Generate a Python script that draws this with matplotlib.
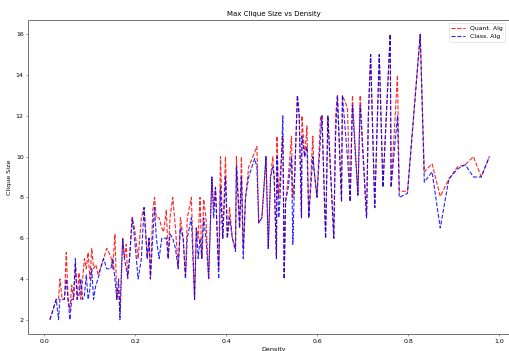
import matplotlib
matplotlib.use("Agg")
import matplotlib.pyplot as plt

# edge density of each test graph, and the max clique size found by each algorithm
density = [0.012, 0.026, 0.031, 0.034, 0.039, 0.044, 0.048, 0.052, 0.056, 0.060,
           0.064, 0.068, 0.072, 0.076, 0.080, 0.084, 0.088, 0.092, 0.096, 0.100,
           0.104, 0.108, 0.113, 0.118, 0.123, 0.130, 0.137, 0.146, 0.150, 0.155,
           0.159, 0.163, 0.166, 0.172, 0.176, 0.180, 0.183, 0.187, 0.193, 0.198,
           0.206, 0.213, 0.219, 0.226, 0.230, 0.233, 0.238, 0.242, 0.246, 0.252,
           0.258, 0.262, 0.268, 0.272, 0.276, 0.282, 0.288, 0.294, 0.299, 0.305,
           0.310, 0.314, 0.323, 0.330, 0.334, 0.338, 0.342, 0.346, 0.350, 0.355,
           0.361, 0.368, 0.372, 0.376, 0.383, 0.387, 0.392, 0.398, 0.402, 0.407,
           0.413, 0.420, 0.422, 0.429, 0.433, 0.437, 0.442, 0.449, 0.462, 0.467,
           0.471, 0.478, 0.487, 0.492, 0.497, 0.502, 0.505, 0.510, 0.511, 0.515,
           0.518, 0.524, 0.527, 0.530, 0.536, 0.543, 0.546, 0.550, 0.556, 0.560,
           0.565, 0.566, 0.572, 0.577, 0.581, 0.590, 0.592, 0.599, 0.607, 0.610,
           0.618, 0.623, 0.636, 0.640, 0.644, 0.653, 0.655, 0.666, 0.672, 0.677,
           0.689, 0.694, 0.708, 0.712, 0.717, 0.726, 0.736, 0.744, 0.760, 0.762,
           0.776, 0.780, 0.798, 0.826, 0.835, 0.852, 0.870, 0.889, 0.908, 0.925,
           0.943, 0.960, 0.978]

quant = [2.0, 3.0, 3.0, 4.0, 3.0, 3.0, 5.3, 3.0, 2.5, 3.7,
         3.0, 4.7, 3.0, 4.3, 3.0, 4.0, 5.0, 4.5, 5.3, 4.0,
         5.5, 4.5, 4.7, 4.2, 4.5, 5.0, 5.5, 5.1, 4.5, 6.2,
         3.0, 3.5, 2.5, 6.0, 5.0, 5.7, 4.0, 5.0, 7.0, 6.5,
         5.0, 7.0, 7.5, 5.0, 6.0, 4.0, 7.3, 8.0, 7.0, 7.0,
         6.5, 6.3, 7.4, 5.0, 7.0, 8.0, 6.5, 4.6, 7.0, 6.0,
         4.1, 7.0, 8.0, 3.0, 6.5, 6.0, 8.0, 5.0, 7.9, 7.0,
         4.0, 9.0, 7.5, 8.5, 4.5, 10.0, 6.0, 10.0, 6.0, 7.5,
         6.0, 5.5, 10.0, 6.5, 10.0, 5.5, 8.0, 9.5, 10.2, 10.5,
         6.75, 7.0, 10.0, 5.5, 9.0, 10.0, 9.0, 5.0, 11.0, 8.0,
         9.0, 11.0, 4.0, 7.8, 9.0, 11.0, 8.0, 9.0, 13.0, 12.0,
         7.0, 12.0, 10.0, 11.5, 7.0, 11.0, 9.5, 8.0, 12.0, 12.0,
         6.0, 12.0, 6.0, 12.0, 13.0, 7.8, 13.0, 12.4, 7.8, 13.0,
         8.1, 13.0, 7.0, 12.0, 15.0, 7.5, 15.0, 8.5, 16.0, 8.5,
         14.0, 8.3, 8.3, 16.0, 9.25, 9.65, 8.05, 8.9, 9.5, 9.6,
         10.0, 9.0, 10.0]

classical = [2.0, 3.0, 2.0, 3.0, 3.0, 3.0, 4.0, 3.0, 2.0, 3.0,
             3.0, 5.0, 3.0, 3.2, 4.0, 3.0, 3.2, 4.2, 3.0, 3.5,
             4.5, 3.0, 3.7, 4.0, 4.5, 5.0, 4.5, 4.5, 5.0, 4.0,
             3.0, 4.0, 2.0, 6.0, 5.0, 4.5, 4.1, 5.0, 7.0, 6.0,
             4.0, 5.0, 7.5, 5.0, 6.0, 4.0, 6.0, 7.5, 6.0, 5.0,
             6.0, 6.0, 6.0, 5.0, 6.2, 6.0, 5.5, 4.5, 6.5, 6.0,
             4.0, 6.0, 7.0, 3.0, 6.5, 5.0, 6.0, 5.0, 7.0, 6.0,
             4.0, 9.0, 7.0, 8.5, 4.0, 8.5, 6.0, 9.0, 6.0, 7.0,
             6.0, 5.35, 9.5, 6.5, 9.0, 5.0, 8.0, 9.0, 9.9, 9.5,
             6.75, 7.0, 10.0, 5.5, 9.0, 9.5, 9.0, 5.0, 10.0, 7.0,
             8.0, 12.0, 4.0, 7.8, 8.5, 10.0, 5.7, 9.0, 13.0, 12.0,
             7.0, 11.0, 10.0, 10.5, 7.0, 10.0, 9.5, 8.0, 11.0, 12.0,
             6.0, 12.0, 6.0, 11.0, 13.0, 7.8, 13.0, 10.0, 7.8, 12.5,
             8.1, 12.5, 7.0, 12.0, 15.0, 7.5, 15.0, 8.5, 16.0, 8.5,
             12.0, 8.0, 8.2, 16.0, 8.75, 9.25, 6.5, 8.9, 9.4, 9.6,
             9.0, 9.0, 10.0]

fig = plt.figure(figsize=(5.1, 3.51), dpi=100)
ax = fig.add_axes([28.5 / 510, 17 / 351, 490 / 510, 314 / 351])

ax.plot(density, quant, "r--", lw=0.8, alpha=0.85, label="Quant. Alg")
ax.plot(density, classical, "b--", lw=0.8, alpha=0.85, label="Class. Alg")
ax.set_xlim(-0.035, 1.042)

ax.set_title("Max Clique Size vs Density", fontsize=5.0, pad=3)
ax.set_xlabel("Density", fontsize=4.6, labelpad=2.5)
ax.set_ylabel("Clique Size", fontsize=4.6, labelpad=3)
ax.tick_params(labelsize=4.5, length=1.5, width=0.4, pad=2, color="0.3")
for s in ax.spines.values():
    s.set_linewidth(0.6)
    s.set_color("0.35")

# legend sits against the visible right edge of the canvas
leg = ax.legend(loc="upper right", fontsize=4.4, handlelength=2.2,
                bbox_to_anchor=((508 - 28.5) / 490, 1.0), borderaxespad=0.5)
leg.get_frame().set_linewidth(0.4)

fig.savefig("out.png", dpi=100)
